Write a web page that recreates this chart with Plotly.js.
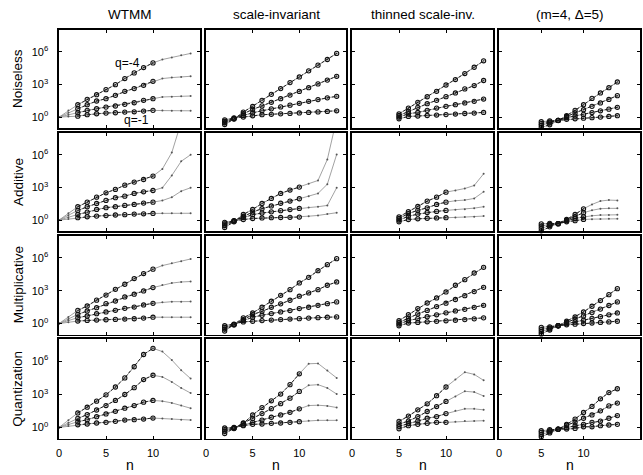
<!DOCTYPE html>
<html>
<head>
<meta charset="utf-8">
<script src="https://cdn.plot.ly/plotly-3.0.1.min.js"></script>
<style>html,body{margin:0;padding:0;background:#fff;}#chart{width:643px;height:475px;}</style>
</head>
<body>
<div id="chart"></div>
<script>
// ---- labels ----
const colTitles = ['WTMM', 'scale-invariant', 'thinned scale-inv.', '(m=4, \u0394=5)'];
const rowLabels = ['Noiseless', 'Additive', 'Multiplicative', 'Quantization'];
const qLabels = ['q=-1', 'q=-2', 'q=-3', 'q=-4'];
const xTickVals = [0, 5, 10];
const yTickVals = [1, 1e3, 1e6];
const yTickText = ['10<sup>0</sup>', '10<sup>3</sup>', '10<sup>6</sup>'];

// ---- n values per method (columns) ----
const nWTMM = [0,1,2,3,4,5,6,7,8,9,10,11,12,13,14];
const nSI   = [2,3,4,5,6,7,8,9,10,11,12,13,14];
const nThin = [5,6,7,8,9,10,11,12,13,14];
const nM4   = [5,6,7,8,9,10,11,12,13,14];
// first / last n drawn with circle markers
const markStart = [2, 2, 5, 5];
const markEnd = [[10,14,14,14],[10,10,10,10],[10,14,14,14],[10,10,10,14]];

// ---- log10 partition values; rows of each array: q=-1, q=-2, q=-3, q=-4 ----
const noiselessWTMM = [
  [0,0.05,0.09,0.22,0.31,0.37,0.40,0.46,0.49,0.55,0.62,0.60,0.59,0.58,0.58],
  [0,0.22,0.40,0.62,0.77,0.92,1.02,1.17,1.32,1.54,1.69,1.85,1.88,1.91,1.94],
  [0,0.40,0.77,1.14,1.48,1.69,2.00,2.37,2.62,2.92,3.29,3.54,3.63,3.69,3.75],
  [0,0.60,1.14,1.63,2.06,2.52,2.98,3.54,4.06,4.55,4.98,5.29,5.48,5.69,5.85]];
const additiveWTMM = [
  [0,0.10,0.22,0.31,0.37,0.42,0.47,0.50,0.55,0.58,0.61,0.62,0.62,0.63,0.63],
  [0,0.27,0.52,0.73,0.98,1.14,1.23,1.35,1.44,1.56,1.65,1.80,2.10,2.66,2.97],
  [0,0.45,0.89,1.23,1.53,1.81,2.06,2.20,2.45,2.60,2.72,2.97,4.10,5.40,6.00],
  [0,0.62,1.23,1.65,2.11,2.51,2.82,3.21,3.49,3.73,4.04,4.70,6.20,9.00,11.0]];
const multiplicativeWTMM = [
  [0,0.12,0.23,0.29,0.32,0.35,0.38,0.41,0.44,0.50,0.58,0.58,0.58,0.58,0.58],
  [0,0.27,0.54,0.69,0.90,1.06,1.21,1.39,1.51,1.70,1.85,1.95,2.00,2.00,2.01],
  [0,0.42,0.84,1.15,1.45,1.82,2.06,2.43,2.68,2.98,3.29,3.52,3.70,3.80,3.84],
  [0,0.60,1.20,1.61,2.14,2.60,3.13,3.59,4.11,4.57,4.97,5.30,5.50,5.70,5.90]];
const quantizationWTMM = [
  [0,0.12,0.24,0.31,0.40,0.46,0.55,0.67,0.70,0.76,0.85,0.82,0.76,0.70,0.67],
  [0,0.27,0.52,0.70,0.97,1.22,1.46,1.74,1.98,2.29,2.44,2.38,2.22,1.98,1.74],
  [0,0.42,0.82,1.16,1.58,1.98,2.44,2.98,3.60,4.33,4.72,4.57,4.12,3.57,3.11],
  [0,0.65,1.31,1.83,2.38,2.95,3.66,4.48,5.49,6.60,7.16,6.86,6.10,5.18,4.42]];

const noiselessSI = [
  [-0.25,-0.08,0.00,0.12,0.22,0.26,0.30,0.34,0.38,0.43,0.48,0.52,0.58],
  [-0.38,-0.12,0.15,0.40,0.58,0.76,0.94,1.10,1.27,1.45,1.61,1.77,1.91],
  [-0.52,-0.15,0.31,0.71,1.03,1.36,1.69,2.02,2.36,2.70,3.05,3.40,3.75],
  [-0.68,-0.18,0.46,0.98,1.54,2.09,2.62,3.17,3.69,4.25,4.77,5.29,5.85]];
const additiveSI = [
  [-0.20,-0.05,0.05,0.15,0.20,0.22,0.24,0.26,0.28,0.36,0.43,0.55,0.68],
  [-0.35,-0.07,0.25,0.50,0.65,0.76,0.87,0.97,1.07,1.15,1.23,1.35,2.97],
  [-0.50,-0.10,0.35,0.74,1.05,1.30,1.55,1.75,1.96,2.20,2.45,3.30,6.03],
  [-0.68,-0.15,0.52,0.98,1.53,1.99,2.45,2.76,3.03,3.33,3.64,5.57,9.30]];
const multiplicativeSI = [
  [-0.20,-0.05,0.15,0.21,0.27,0.32,0.36,0.41,0.45,0.50,0.54,0.58,0.61],
  [-0.35,-0.10,0.27,0.58,0.76,0.91,1.06,1.19,1.37,1.49,1.67,1.82,1.98],
  [-0.50,-0.12,0.36,0.82,1.12,1.49,1.80,2.13,2.50,2.80,3.10,3.50,3.80],
  [-0.68,-0.10,0.52,0.97,1.49,2.04,2.58,3.10,3.71,4.22,4.83,5.38,5.93]];
const quantizationSI = [
  [-0.05,0.00,0.16,0.28,0.31,0.37,0.40,0.46,0.52,0.61,0.64,0.64,0.64],
  [-0.20,-0.05,0.22,0.46,0.67,0.92,1.13,1.37,1.68,1.98,2.01,1.95,1.80],
  [-0.35,-0.07,0.40,0.80,1.25,1.70,2.15,2.65,3.26,3.81,3.87,3.57,3.02],
  [-0.55,-0.10,0.37,1.13,1.80,2.41,3.02,3.87,4.85,5.76,5.79,5.16,4.48]];

const noiselessThin = [
  [-0.15,0.06,0.10,0.15,0.19,0.23,0.28,0.33,0.37,0.43],
  [0.00,0.31,0.43,0.62,0.83,0.99,1.14,1.30,1.45,1.66],
  [0.15,0.53,0.90,1.23,1.54,1.88,2.22,2.59,2.90,3.36],
  [0.30,0.83,1.36,1.87,2.37,2.95,3.45,4.00,4.58,5.17]];
const additiveThin = [
  [-0.15,0.05,0.12,0.17,0.20,0.22,0.25,0.28,0.32,0.37],
  [0.00,0.35,0.55,0.70,0.80,0.89,0.95,1.00,1.10,1.23],
  [0.15,0.60,0.90,1.13,1.44,1.65,1.78,1.84,1.99,2.60],
  [0.30,0.78,1.25,1.74,2.11,2.57,2.73,2.90,3.18,4.25]];
const multiplicativeThin = [
  [-0.20,0.05,0.10,0.16,0.20,0.25,0.30,0.36,0.43,0.52],
  [-0.05,0.28,0.45,0.62,0.80,0.98,1.15,1.30,1.48,1.67],
  [0.10,0.50,0.88,1.20,1.55,1.86,2.20,2.55,2.92,3.31],
  [0.27,0.82,1.37,1.88,2.34,2.89,3.50,4.01,4.62,5.14]];
const quantizationThin = [
  [-0.12,0.16,0.28,0.37,0.46,0.46,0.52,0.58,0.58,0.61],
  [0.10,0.37,0.58,0.83,0.98,1.25,1.50,1.68,1.68,1.59],
  [0.30,0.58,0.98,1.44,1.89,2.35,2.81,3.27,3.20,2.85],
  [0.55,1.03,1.59,2.14,2.87,3.66,4.33,5.00,4.80,4.26]];

const noiselessM4 = [
  [-0.42,-0.35,-0.30,-0.20,-0.15,-0.10,-0.05,0.00,0.06,0.13],
  [-0.60,-0.45,-0.30,-0.05,0.10,0.25,0.42,0.58,0.73,0.90],
  [-0.75,-0.55,-0.30,0.06,0.38,0.68,0.99,1.30,1.62,1.97],
  [-0.95,-0.70,-0.32,0.13,0.62,1.14,1.72,2.22,2.70,3.23]];
const additiveM4 = [
  [-0.35,-0.30,-0.33,-0.15,-0.05,0.06,0.09,0.11,0.12,0.12],
  [-0.55,-0.40,-0.33,-0.05,0.15,0.31,0.40,0.46,0.48,0.49],
  [-0.75,-0.50,-0.33,0.00,0.31,0.68,0.90,1.05,1.08,1.08],
  [-0.98,-0.62,-0.33,0.06,0.52,1.04,1.44,1.75,1.84,1.81]];
const multiplicativeM4 = [
  [-0.35,-0.30,-0.20,-0.12,-0.06,0.00,0.05,0.10,0.15,0.21],
  [-0.55,-0.40,-0.20,-0.02,0.15,0.30,0.47,0.63,0.80,0.97],
  [-0.75,-0.50,-0.20,0.10,0.40,0.70,1.00,1.32,1.65,1.98],
  [-0.95,-0.60,-0.20,0.21,0.60,1.06,1.58,2.10,2.64,3.19]];
const quantizationM4 = [
  [-0.30,-0.20,-0.15,-0.15,-0.09,0.06,0.06,0.16,0.22,0.28],
  [-0.45,-0.30,-0.15,-0.03,0.16,0.28,0.46,0.58,0.83,1.07],
  [-0.65,-0.40,-0.15,0.22,0.46,0.83,1.13,1.50,1.95,2.20],
  [-0.85,-0.50,-0.18,0.28,0.76,1.35,1.90,2.59,3.15,3.50]];

// ---- grid assembly ----
const nByCol = [nWTMM, nSI, nThin, nM4];
const xMax = [15, 15, 15, 16.68];
const panels = [
  [noiselessWTMM, noiselessSI, noiselessThin, noiselessM4],
  [additiveWTMM, additiveSI, additiveThin, additiveM4],
  [multiplicativeWTMM, multiplicativeSI, multiplicativeThin, multiplicativeM4],
  [quantizationWTMM, quantizationSI, quantizationThin, quantizationM4]];

const W = 643, H = 475;
const colPx = [[59,200],[206,346],[352,493],[499,640]];
const rowPx = [[30,128],[133,231],[236,334.5],[339,438.5]];
const FONT = 'Liberation Sans, Arial, Helvetica, sans-serif';

const traces = [];
const layout = {
  width: W, height: H,
  margin: {l:0, r:0, t:0, b:0},
  paper_bgcolor: '#fff', plot_bgcolor: '#fff',
  showlegend: false,
  font: {family: FONT, size: 11, color: '#000'},
  annotations: []
};

for (let r = 0; r < 4; r++) {
  for (let c = 0; c < 4; c++) {
    const k = r * 4 + c + 1;
    const xa = 'x' + k, ya = 'y' + k;
    const xs = nByCol[c];
    const sets = panels[r][c];
    // grey full curves
    sets.forEach((L) => {
      traces.push({
        x: xs, y: L.map(v => Math.pow(10, v)), xaxis: xa, yaxis: ya,
        type: 'scatter', mode: 'lines+markers', hoverinfo: 'skip',
        line: {color: '#8a8a8a', width: 0.8},
        marker: {size: 2, color: '#555'}
      });
    });
    // dashed marked range
    sets.forEach((L) => {
      const mx = [], my = [];
      xs.forEach((n, i) => {
        if (n >= markStart[c] && n <= markEnd[r][c]) { mx.push(n); my.push(Math.pow(10, L[i])); }
      });
      traces.push({
        x: mx, y: my, xaxis: xa, yaxis: ya,
        type: 'scatter', mode: 'lines+markers', hoverinfo: 'skip', cliponaxis: false,
        line: {color: '#111', width: 0.9, dash: '3px,2px'},
        marker: {symbol: 'circle-open', size: 4.2, color: '#111', line: {width: 1.1, color: '#111'}}
      });
    });
    const xdom = [colPx[c][0] / W, colPx[c][1] / W];
    const ydom = [1 - rowPx[r][1] / H, 1 - rowPx[r][0] / H];
    layout['xaxis' + (k === 1 ? '' : k)] = {
      domain: xdom, anchor: ya, range: [0, xMax[c]],
      showgrid: false, zeroline: false, showline: true, mirror: 'ticks',
      linecolor: '#000', linewidth: 1.6, ticks: 'inside', ticklen: 3, tickwidth: 1, tickcolor: '#000',
      tickmode: 'array', tickvals: xTickVals, ticktext: xTickVals.map(String),
      showticklabels: r === 3, tickfont: {size: 11, family: FONT, color: '#000'}, ticklabelstandoff: 4
    };
    layout['yaxis' + (k === 1 ? '' : k)] = {
      domain: ydom, anchor: xa, type: 'log', range: [-1, 8],
      showgrid: false, zeroline: false, showline: true, mirror: 'ticks',
      linecolor: '#000', linewidth: 1.6, ticks: 'inside', ticklen: 3, tickwidth: 1, tickcolor: '#000',
      tickmode: 'array', tickvals: yTickVals, ticktext: yTickText,
      showticklabels: c === 0, tickfont: {size: 11, family: FONT, color: '#000'}, ticklabelstandoff: 7
    };
  }
}

// column titles and x-axis labels
colTitles.forEach((t, c) => {
  const cx = (colPx[c][0] + colPx[c][1]) / 2 / W;
  layout.annotations.push({text: t, xref: 'paper', yref: 'paper', x: cx, y: 1 - 15 / H,
    xanchor: 'center', yanchor: 'middle', showarrow: false, font: {size: 13.5, family: FONT, color: '#000'}});
  layout.annotations.push({text: 'n', xref: 'paper', yref: 'paper', x: cx, y: 1 - 465 / H,
    xanchor: 'center', yanchor: 'middle', showarrow: false, font: {size: 14, family: FONT, color: '#000'}});
});
// row labels
rowLabels.forEach((t, r) => {
  const cy = 1 - (rowPx[r][0] + rowPx[r][1]) / 2 / H;
  layout.annotations.push({text: t, xref: 'paper', yref: 'paper', x: 18 / W, y: cy,
    xanchor: 'center', yanchor: 'middle', textangle: -90, showarrow: false,
    font: {size: 13.5, family: FONT, color: '#000'}});
});
// q labels in first panel (y in log10 units)
layout.annotations.push({text: qLabels[3], xref: 'x', yref: 'y', x: 7.3, y: 4.96,
  showarrow: false, font: {size: 12, family: FONT, color: '#000'}});
layout.annotations.push({text: qLabels[0], xref: 'x', yref: 'y', x: 8.2, y: -0.3,
  showarrow: false, font: {size: 12, family: FONT, color: '#000'}});

Plotly.newPlot('chart', traces, layout, {staticPlot: true, displayModeBar: false});
</script>
</body>
</html>
